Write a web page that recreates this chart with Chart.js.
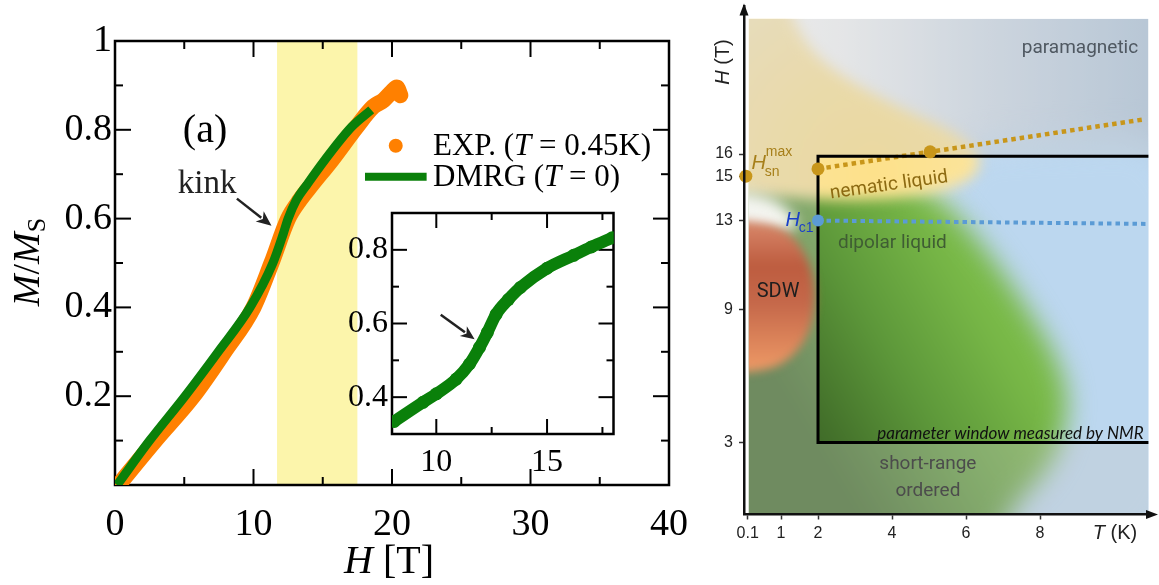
<!DOCTYPE html>
<html>
<head>
<meta charset="utf-8">
<script src="https://cdn.jsdelivr.net/npm/chart.js@4.4.1/dist/chart.umd.min.js"></script>
<style>
  html, body { margin: 0; padding: 0; background: #fff; }
  #fig { position: relative; width: 1159px; height: 585px; overflow: hidden; }
  #fig canvas { position: absolute; }
</style>
</head>
<body>
<div id="fig">
  <canvas id="magnet" width="700" height="585" style="left:0;top:0"></canvas>
  <canvas id="inset" width="300" height="290" style="left:320px;top:200px"></canvas>
  <canvas id="phase" width="459" height="585" style="left:700px;top:0"></canvas>
</div>
<script>
// ---- panel (a): M/Ms against field ----
const expField  = [0.25, 2.9, 5.65, 7.9, 10.0, 11.3, 12.5, 13.35, 14.2, 15.65, 17.45, 18.65, 19.4, 20.0, 20.35, 20.6];
const expMag    = [0.0, 0.1, 0.2, 0.3, 0.4, 0.5, 0.6, 0.642, 0.676, 0.732, 0.807, 0.852, 0.867, 0.886, 0.895, 0.878];
const dmrgField = [0.15, 2.5, 5.05, 7.45, 9.75, 11.4, 12.15, 12.5, 13.1, 13.85, 15.15, 17.1, 18.5];
const dmrgMag   = [0.0, 0.1, 0.2, 0.3, 0.4, 0.5, 0.566, 0.6, 0.642, 0.676, 0.732, 0.807, 0.845];
const insetField = [8.1, 9.4, 10.0, 10.9, 11.5, 11.95, 12.3, 12.7, 13.25, 13.8, 15.0, 16.2, 17.0, 17.95];
const insetMag   = [0.334, 0.386, 0.409, 0.449, 0.49, 0.535, 0.575, 0.625, 0.665, 0.698, 0.75, 0.785, 0.808, 0.833];
const kinkBand = [11.7, 17.5];
const mainXTicks = [0, 10, 20, 30, 40];
const mainYTicks = [0, 0.2, 0.4, 0.6, 0.8, 1];
const insetXTicks = [10, 15];
const insetYTicks = [0.4, 0.6, 0.8];

// ---- panel (b): H-T phase diagram sketch ----
const tempTicks = [0.1, 1, 2, 4, 6, 8];
const fieldTicks = [3, 9, 13, 15, 16];
const imageT = [0.13, 10.93];
const imageH = [-0.25, 22.1];
const windowT = [10.93, 2, 2, 10.93];
const windowH = [15.9, 15.9, 3, 3];
const hsnLineT = [2, 5.03, 10.84];
const hsnLineH = [15.33, 16.1, 17.57];
const hsnPointT = [0.05, 2, 5.03];
const hsnPointH = [15.0, 15.33, 16.1];
const hc1LineT = [2, 10.9];
const hc1LineH = [13.0, 12.85];
const hc1PointT = [2];
const hc1PointH = [13.0];
// region outlines (points outside the picture just carry the shape past its edge)
const paraBlueT = [5.0, 8.0, 12.5, 12.5, 5.0];
const paraBlueH = [16.3, 16.6, 17.0, -3.0, -3.0];
const dipolarT = [-2.0, 1.0, 2.0, 3.0, 4.2, 5.2, 6.0, 6.9, 7.7, 8.4, 8.8, 8.6, 8.1, 7.3, 6.4, -2.0];
const dipolarH = [14.8, 15.0, 15.0, 15.0, 14.8, 14.2, 12.8, 10.9, 8.9, 7.0, 5.0, 3.0, 1.5, 0.2, -3.0, -3.0];
const nematicT = [-2.0, 1.0, 1.6, 2.6, 4.3, 5.7, 6.4, 6.3, 5.5, 4.0, 2.5, 1.2, -2.0];
const nematicH = [24.0, 23.5, 21.0, 19.5, 18.0, 17.0, 16.0, 15.0, 14.4, 14.0, 13.9, 14.1, 14.3];
const glowT = [-1.0, 0.6, 1.3, 1.5, 0.8, -1.0];
const glowH = [14.4, 14.2, 13.4, 12.6, 12.4, 12.6];
const sdwT = [-1.0, 0.8, 1.4, 1.8, 1.95, 1.8, 1.3, 0.6, -1.0];
const sdwH = [13.1, 12.9, 12.2, 11.0, 9.6, 8.0, 6.8, 6.2, 6.1];

const SERIF = "'Liberation Serif', 'Times New Roman', serif";
const SANS = "'Liberation Sans', Arial, sans-serif";
const GREEN = '#0a800a';
const ORANGE = '#ff8000';
const GOLD = '#c8961a';
const SKY = '#5b9bd5';

const pts = (xs, ys) => xs.map((x, i) => ({ x, y: ys[i] }));
const setTicks = (vals) => (s) => { s.ticks = vals.map(v => ({ value: v })); };
const fixAxis = (size, vertical) => (s) => {
  if (vertical) s.width = size; else s.height = size;
  s.paddingLeft = s.paddingRight = s.paddingTop = s.paddingBottom = 0;
};
function minors(majors, min, max) {
  const step = majors[1] - majors[0], out = [];
  for (let v = majors[0] - step / 2; v < max - 1e-9; v += step) if (v > min + 1e-9) out.push(v);
  return out;
}

function runs(ctx, parts, x, y, align) {
  let w = 0;
  for (const [t, f] of parts) { ctx.font = f; w += ctx.measureText(t).width; }
  let cx = align === 'center' ? x - w / 2 : x;
  ctx.textAlign = 'left';
  for (const [t, f, dy = 0] of parts) { ctx.font = f; ctx.fillText(t, cx, y + dy); cx += ctx.measureText(t).width; }
}

function arrow(ctx, x0, y0, x1, y1, head, half) {
  const a = Math.atan2(y1 - y0, x1 - x0);
  const bx = x1 - head * Math.cos(a), by = y1 - head * Math.sin(a);
  ctx.beginPath(); ctx.moveTo(x0, y0); ctx.lineTo(bx + 2 * Math.cos(a), by + 2 * Math.sin(a)); ctx.stroke();
  ctx.beginPath(); ctx.moveTo(x1, y1);
  ctx.lineTo(bx + half * Math.sin(a), by - half * Math.cos(a));
  ctx.lineTo(bx + 4 * Math.cos(a), by + 4 * Math.sin(a));
  ctx.lineTo(bx - half * Math.sin(a), by + half * Math.cos(a));
  ctx.closePath(); ctx.fill();
}

// frame with inward ticks on all four sides
function framePlugin(id, o) {
  return {
    id,
    beforeDatasetsDraw(chart) {
      const { ctx, chartArea: a, scales: { x, y } } = chart;
      ctx.save();
      if (o.fill) { ctx.fillStyle = o.fill; ctx.fillRect(a.left, a.top, a.width, a.height); }
      if (o.band) {
        const l = x.getPixelForValue(o.band[0]), r = x.getPixelForValue(o.band[1]);
        ctx.fillStyle = '#fcf5ab';
        ctx.fillRect(l, a.top, r - l, a.height);
      }
      ctx.strokeStyle = '#000';
      ctx.lineWidth = 2;
      const mark = (x0, y0, x1, y1) => { ctx.beginPath(); ctx.moveTo(x0, y0); ctx.lineTo(x1, y1); ctx.stroke(); };
      const xm = (vals, len) => vals.forEach(v => {
        const p = x.getPixelForValue(v);
        mark(p, a.bottom, p, a.bottom - len); mark(p, a.top, p, a.top + len);
      });
      const ym = (vals, len) => vals.forEach(v => {
        const p = y.getPixelForValue(v);
        mark(a.left, p, a.left + len, p); mark(a.right, p, a.right - len, p);
      });
      xm(o.xMajor, o.major); xm(minors(o.xMajor, x.min, x.max), o.minor);
      ym(o.yMajor, o.major); ym(minors(o.yMajor, y.min, y.max), o.minor);
      ctx.lineWidth = 2.5;
      ctx.strokeRect(a.left, a.top, a.width, a.height);
      ctx.restore();
    }
  };
}

const magnetText = {
  id: 'magnetText',
  afterDraw(chart) {
    const { ctx, scales: { x, y } } = chart;
    ctx.save();
    ctx.textBaseline = 'middle';
    ctx.fillStyle = '#000';
    ctx.textAlign = 'center';
    ctx.font = `40px ${SERIF}`;
    ctx.fillText('(a)', x.getPixelForValue(6.5), y.getPixelForValue(0.797));
    ctx.fillStyle = '#222';
    ctx.font = `33px ${SERIF}`;
    ctx.fillText('kink', x.getPixelForValue(6.65), y.getPixelForValue(0.678));
    ctx.strokeStyle = '#222'; ctx.lineWidth = 2.5;
    arrow(ctx, x.getPixelForValue(8.8), y.getPixelForValue(0.645), x.getPixelForValue(11.3), y.getPixelForValue(0.584), 15, 6.5);
    // legend
    ctx.fillStyle = ORANGE;
    ctx.beginPath(); ctx.arc(x.getPixelForValue(20.27), y.getPixelForValue(0.764), 7, 0, Math.PI * 2); ctx.fill();
    ctx.strokeStyle = GREEN; ctx.lineWidth = 8;
    ctx.beginPath(); ctx.moveTo(x.getPixelForValue(18.05), y.getPixelForValue(0.694)); ctx.lineTo(x.getPixelForValue(22.5), y.getPixelForValue(0.694)); ctx.stroke();
    ctx.fillStyle = '#000';
    const up = `31px ${SERIF}`, it = `italic 31px ${SERIF}`;
    runs(ctx, [['EXP. (', up], ['T', it], [' = 0.45K)', up]], 433, y.getPixelForValue(0.764) + 1, 'left');
    runs(ctx, [['DMRG (', up], ['T', it], [' = 0)', up]], 433, y.getPixelForValue(0.694) + 1, 'left');
    // axis titles
    runs(ctx, [['H', `italic 40px ${SERIF}`], [' [T]', `40px ${SERIF}`]], 389, 562, 'center');
    ctx.translate(29, 262);
    ctx.rotate(-Math.PI / 2);
    runs(ctx, [['M', `italic 38px ${SERIF}`], ['/', `38px ${SERIF}`], ['M', `italic 38px ${SERIF}`], ['S', `26px ${SERIF}`, 9]], 0, 0, 'center');
    ctx.restore();
  }
};

const insetText = {
  id: 'insetText',
  afterDraw(chart) {
    const { ctx, scales: { x, y } } = chart;
    ctx.save();
    ctx.fillStyle = '#222'; ctx.strokeStyle = '#222'; ctx.lineWidth = 2.5;
    arrow(ctx, x.getPixelForValue(10.2), y.getPixelForValue(0.624), x.getPixelForValue(11.73), y.getPixelForValue(0.557), 14, 6);
    ctx.restore();
  }
};

const common = {
  responsive: false,
  animation: false,
  events: [],
  devicePixelRatio: 1,
};

new Chart(document.getElementById('magnet'), {
  type: 'line',
  data: {
    datasets: [
      { label: 'DMRG (T=0)', data: pts(dmrgField, dmrgMag), borderColor: GREEN, borderWidth: 9,
        pointRadius: 0, cubicInterpolationMode: 'monotone', borderCapStyle: 'butt' },
      { label: 'EXP. (T=0.45K)', data: pts(expField, expMag), borderColor: ORANGE, borderWidth: 16,
        pointRadius: (c) => c.dataIndex === expField.length - 2 ? 7.5 : 0, pointBackgroundColor: ORANGE, pointBorderWidth: 0,
        cubicInterpolationMode: 'monotone', borderCapStyle: 'round', borderJoinStyle: 'round' }
    ]
  },
  options: {
    ...common,
    layout: { padding: { top: 41, right: 31, left: 0, bottom: 0 } },
    plugins: { legend: { display: false }, tooltip: { enabled: false } },
    scales: {
      x: { type: 'linear', min: 0, max: 40, afterBuildTicks: setTicks(mainXTicks), afterFit: fixAxis(100, false),
        grid: { display: false, drawTicks: false }, border: { display: false },
        ticks: { color: '#000', font: { family: SERIF, size: 38 }, padding: 17, maxRotation: 0, autoSkip: false } },
      y: { type: 'linear', min: 0, max: 1, afterBuildTicks: setTicks(mainYTicks), afterFit: fixAxis(115, true),
        grid: { display: false, drawTicks: false }, border: { display: false },
        ticks: { color: '#000', font: { family: SERIF, size: 38 }, padding: 3, autoSkip: false,
          callback: (v) => v === 0 ? '' : String(v) } }
    }
  },
  plugins: [framePlugin('magnetFrame', { band: kinkBand, xMajor: mainXTicks, yMajor: mainYTicks, major: 16, minor: 8 }), magnetText]
});

new Chart(document.getElementById('inset'), {
  type: 'line',
  data: {
    datasets: [
      { label: 'DMRG (T=0)', data: pts(insetField, insetMag), borderColor: GREEN, borderWidth: 12,
        pointRadius: 6.5, pointBackgroundColor: GREEN, pointBorderWidth: 0,
        cubicInterpolationMode: 'monotone', borderCapStyle: 'round' }
    ]
  },
  options: {
    ...common,
    layout: { padding: { top: 13, right: 6, left: 0, bottom: 0 } },
    plugins: { legend: { display: false }, tooltip: { enabled: false } },
    scales: {
      x: { type: 'linear', min: 8, max: 18, afterBuildTicks: setTicks(insetXTicks), afterFit: fixAxis(56, false),
        grid: { display: false, drawTicks: false }, border: { display: false },
        ticks: { color: '#000', font: { family: SERIF, size: 32 }, padding: 9, maxRotation: 0, autoSkip: false } },
      y: { type: 'linear', min: 0.3, max: 0.9, afterBuildTicks: setTicks(insetYTicks), afterFit: fixAxis(72, true),
        grid: { display: false, drawTicks: false }, border: { display: false },
        ticks: { color: '#000', font: { family: SERIF, size: 32 }, padding: 4, autoSkip: false, callback: (v) => String(v) } }
    }
  },
  plugins: [framePlugin('insetFrame', { fill: '#fff', xMajor: insetXTicks, yMajor: insetYTicks, major: 15, minor: 7 }), insetText]
});

// ---- phase diagram ----
function smoothClosed(ctx, p) {
  const n = p.length;
  const mid = (a, b) => ({ x: (a.x + b.x) / 2, y: (a.y + b.y) / 2 });
  const s = mid(p[n - 1], p[0]);
  ctx.beginPath();
  ctx.moveTo(s.x, s.y);
  for (let i = 0; i < n; i++) {
    const m = mid(p[i], p[(i + 1) % n]);
    ctx.quadraticCurveTo(p[i].x, p[i].y, m.x, m.y);
  }
  ctx.closePath();
}

function paintFor(ctx, spec, x, y) {
  if (spec.color) return spec.color;
  let g;
  if (spec.linear) {
    const [[t0, h0], [t1, h1]] = spec.linear;
    g = ctx.createLinearGradient(x.getPixelForValue(t0), y.getPixelForValue(h0), x.getPixelForValue(t1), y.getPixelForValue(h1));
  } else {
    const cx = x.getPixelForValue(spec.radial[0]), cy = y.getPixelForValue(spec.radial[1]);
    g = ctx.createRadialGradient(cx, cy, 0, cx, cy, spec.r);
  }
  spec.stops.forEach(([o, c]) => g.addColorStop(o, c));
  return g;
}

const phaseRegions = {
  id: 'phaseRegions',
  beforeDatasetsDraw(chart) {
    const { ctx, scales: { x, y } } = chart;
    const L = x.getPixelForValue(imageT[0]), R = x.getPixelForValue(imageT[1]);
    const T = y.getPixelForValue(imageH[1]), B = y.getPixelForValue(imageH[0]);
    ctx.save();
    ctx.beginPath(); ctx.rect(L, T, R - L, B - T); ctx.clip();
    const bg = ctx.createLinearGradient(x.getPixelForValue(0), 0, x.getPixelForValue(11), 0);
    bg.addColorStop(0, '#ffffff'); bg.addColorStop(0.25, '#f3f5f7');
    bg.addColorStop(0.6, '#cfdcea'); bg.addColorStop(1, '#afc6dd');
    ctx.fillStyle = bg; ctx.fillRect(L, T, R - L, B - T);
    let washed = false;
    chart.data.datasets.forEach((ds, i) => {
      if (!ds.region) return;
      if (ds.region.overWash && !washed) {
        washed = true;
        const wl = x.getPixelForValue(windowT[1]), wt = y.getPixelForValue(windowH[0]), wb = y.getPixelForValue(windowH[2]);
        ctx.beginPath();
        ctx.rect(L, T, R - L, B - T);
        ctx.rect(wl, wt, R - wl, wb - wt);
        ctx.fillStyle = 'rgba(200,200,200,0.35)';
        ctx.fill('evenodd');
      }
      ctx.save();
      ctx.filter = `blur(${ds.region.blur}px)`;
      ctx.fillStyle = paintFor(ctx, ds.region, x, y);
      smoothClosed(ctx, chart.getDatasetMeta(i).data);
      ctx.fill();
      ctx.restore();
    });
    ctx.restore();
  }
};

const phaseText = {
  id: 'phaseText',
  afterDraw(chart) {
    const { ctx, chartArea: a, scales: { x, y } } = chart;
    const px = (t) => x.getPixelForValue(t), py = (h) => y.getPixelForValue(h);
    ctx.save();
    // axis arrows
    ctx.fillStyle = '#111'; ctx.strokeStyle = '#111'; ctx.lineWidth = 2.5;
    ctx.beginPath(); ctx.moveTo(a.right - 2, a.bottom); ctx.lineTo(a.right + 2, a.bottom); ctx.stroke();
    ctx.beginPath(); ctx.moveTo(a.left, a.top - 3); ctx.lineTo(a.left - 4.5, a.top + 9); ctx.lineTo(a.left + 4.5, a.top + 9); ctx.closePath(); ctx.fill();
    ctx.beginPath(); ctx.moveTo(a.right + 7, a.bottom); ctx.lineTo(a.right - 5, a.bottom - 4.5); ctx.lineTo(a.right - 5, a.bottom + 4.5); ctx.closePath(); ctx.fill();
    ctx.textBaseline = 'middle';
    ctx.fillStyle = '#222';
    runs(ctx, [['T', `italic 20px ${SANS}`], [' (K)', `20px ${SANS}`]], 415, 533, 'center');
    ctx.save();
    ctx.translate(23, 62); ctx.rotate(-Math.PI / 2);
    runs(ctx, [['H', `italic 20px ${SANS}`], [' (T)', `20px ${SANS}`]], 0, 0, 'center');
    ctx.restore();
    // phase labels
    ctx.textAlign = 'center';
    ctx.font = "19px Roboto, sans-serif";
    ctx.fillStyle = '#4f5861';
    ctx.fillText('paramagnetic', px(9.08), py(20.78));
    ctx.fillStyle = '#3f5d33';
    ctx.fillText('dipolar liquid', px(4.01), py(11.97));
    ctx.fillStyle = '#1e1e1e';
    ctx.font = "20px Roboto, sans-serif";
    ctx.fillText('SDW', px(0.92), py(9.77));
    ctx.fillStyle = '#4c4c4c';
    ctx.font = "19px Roboto, sans-serif";
    ctx.fillText('short-range', px(4.97), py(2.0));
    ctx.fillText('ordered', px(4.97), py(0.78));
    ctx.save();
    ctx.translate(px(3.92), py(14.58)); ctx.rotate(-8 * Math.PI / 180);
    ctx.fillStyle = '#8c6a12';
    ctx.fillText('nematic liquid', 0, 0);
    ctx.restore();
    ctx.fillStyle = '#111';
    ctx.textAlign = 'right';
    ctx.font = "italic 17px Lato, sans-serif";
    ctx.fillText('parameter window measured by NMR', px(10.8), py(3.39));
    // critical field labels
    ctx.textAlign = 'center';
    ctx.fillStyle = '#a67f1a';
    const hx = px(0.4), hy = py(15.56);
    ctx.font = `italic 20px ${SANS}`; ctx.fillText('H', hx, hy);
    ctx.textAlign = 'left';
    ctx.font = `14px ${SANS}`;
    ctx.fillText('max', hx + 7, hy - 12);
    ctx.fillText('sn', hx + 6, hy + 8);
    ctx.fillStyle = '#1a3fc8';
    const cx = px(1.32), cy = py(13.0);
    ctx.textAlign = 'center';
    ctx.font = `italic 20px ${SANS}`; ctx.fillText('H', cx, cy);
    ctx.textAlign = 'left';
    ctx.font = `14px ${SANS}`; ctx.fillText('c1', cx + 6, cy + 8);
    ctx.restore();
  }
};

const region = (xs, ys, spec) => ({ data: pts(xs, ys), showLine: false, pointRadius: 0, region: spec });

new Chart(document.getElementById('phase'), {
  type: 'line',
  data: {
    datasets: [
      { label: 'H_sn', data: pts(hsnPointT, hsnPointH), showLine: false, pointRadius: 6.5, pointBackgroundColor: GOLD, pointBorderWidth: 0, clip: false },
      { label: 'H_c1', data: pts(hc1PointT, hc1PointH), showLine: false, pointRadius: 6, pointBackgroundColor: SKY, pointBorderWidth: 0, clip: false },
      { label: 'window', data: pts(windowT, windowH), borderColor: '#000', borderWidth: 3, pointRadius: 0, borderJoinStyle: 'miter' },
      { label: 'H_sn line', data: pts(hsnLineT, hsnLineH), borderColor: GOLD, borderWidth: 4.5, borderDash: [4.5, 4], pointRadius: 0 },
      { label: 'H_c1 line', data: pts(hc1LineT, hc1LineH), borderColor: SKY, borderWidth: 4, borderDash: [4.5, 4], pointRadius: 0 },
      region(paraBlueT, paraBlueH, { blur: 16, color: '#bcd7ef' }),
      region(dipolarT, dipolarH, { blur: 13, linear: [[2, 3], [7, 8]], stops: [[0, '#3f6a28'], [0.5, '#5d983a'], [1, '#7aba48']] }),
      region(nematicT, nematicH, { blur: 7, radial: [3.5, 15.2], r: 200, stops: [[0, '#fde18a'], [0.5, '#fbe39a'], [1, '#f7e6b4']] }),
      region(glowT, glowH, { blur: 7, color: 'rgba(250,249,247,0.95)', overWash: true }),
      region(sdwT, sdwH, { blur: 5, overWash: true, linear: [[1, 13], [1, 6.2]],
        stops: [[0, '#d9896b'], [0.3, '#bd5c3f'], [0.55, '#c5684a'], [1, '#ee9a66']] })
    ]
  },
  options: {
    ...common,
    layout: { padding: { top: 5, right: 8, left: 0, bottom: 0 } },
    plugins: { legend: { display: false }, tooltip: { enabled: false } },
    scales: {
      x: { type: 'linear', min: 0, max: 11, afterBuildTicks: setTicks(tempTicks), afterFit: fixAxis(70.5, false),
        grid: { drawOnChartArea: false, drawTicks: true, tickLength: 5, tickColor: '#333', tickWidth: 1.5 },
        border: { display: true, color: '#111', width: 2.5, z: 1 },
        ticks: { color: '#222', font: { family: SANS, size: 16 }, padding: 4, maxRotation: 0, autoSkip: false, callback: (v) => String(v) } },
      y: { type: 'linear', min: -0.25, max: 22.65, afterBuildTicks: setTicks(fieldTicks), afterFit: fixAxis(44, true),
        grid: { drawOnChartArea: false, drawTicks: true, tickLength: 5, tickColor: '#333', tickWidth: 1.5 },
        border: { display: true, color: '#111', width: 2.5, z: 1 },
        ticks: { color: '#222', font: { family: SANS, size: 16 }, padding: 6, autoSkip: false, callback: (v) => String(v) } }
    }
  },
  plugins: [phaseRegions, phaseText]
});
</script>
</body>
</html>
